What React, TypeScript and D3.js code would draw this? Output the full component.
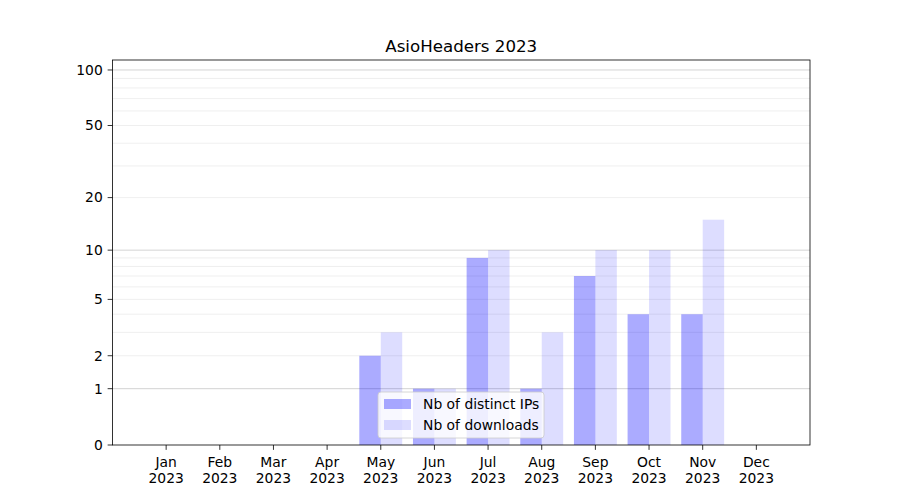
import React from "react";
import * as d3 from "d3";

const months = ["Jan", "Feb", "Mar", "Apr", "May", "Jun", "Jul", "Aug", "Sep", "Oct", "Nov", "Dec"];
const yearLabel = "2023";
const distinctIPs = [0, 0, 0, 0, 2, 1, 9, 1, 7, 4, 4, 0];
const downloads = [0, 0, 0, 0, 3, 1, 10, 3, 10, 10, 15, 0];
const yTickValues = [0, 1, 2, 5, 10, 20, 50, 100];
const majorGrid = [1, 10, 100];
const minorGrid = [2, 3, 4, 5, 6, 7, 8, 9, 20, 30, 40, 50, 60, 70, 80, 90];
const title = "AsioHeaders 2023";
const seriesNames = ["Nb of distinct IPs", "Nb of downloads"];

const W = 900, H = 500;
const L = 112.5, R = 810, T = 60, B = 445;
const FONT = "DejaVu Sans, sans-serif";
const FS = 13.89;
const TL = 4.86;
const C1 = "rgba(0,0,255,0.33)";
const C2 = "rgba(0,0,255,0.135)";

export default function App() {
  const x = d3.scaleLinear().domain([-1, 12]).range([L, R]);
  const y = d3.scaleSymlog().constant(1).domain([0, 113.2]).range([B, T]);
  const bw = x(0.4) - x(0);

  const legX = 378, legY = 392, legW = 166, legH = 46;

  return (
    <div style={{ position: "fixed", left: 0, top: 0 }}>
      <svg width={W} height={H} style={{ display: "block", background: "#fff" }} fontFamily={FONT}>
        <rect x={0} y={0} width={W} height={H} fill="#fff" />
        {/* grid */}
        {minorGrid.map((v) => (
          <line key={"mg" + v} x1={L} x2={R} y1={y(v)} y2={y(v)} stroke="#ebebeb" strokeWidth={0.8} />
        ))}
        {majorGrid.map((v) => (
          <line key={"Mg" + v} x1={L} x2={R} y1={y(v)} y2={y(v)} stroke="#c8c8c8" strokeWidth={0.8} />
        ))}
        {/* bars */}
        {months.map((m, i) => (
          <g key={m}>
            {distinctIPs[i] > 0 && (
              <rect x={x(i) - bw} y={y(distinctIPs[i])} width={bw} height={B - y(distinctIPs[i])} fill={C1} />
            )}
            {downloads[i] > 0 && (
              <rect x={x(i)} y={y(downloads[i])} width={bw} height={B - y(downloads[i])} fill={C2} />
            )}
          </g>
        ))}
        {/* frame */}
        <rect x={L} y={T} width={R - L} height={B - T} fill="none" stroke="#000" strokeWidth={0.8} />
        {/* y ticks */}
        {yTickValues.map((v) => (
          <g key={"yt" + v}>
            <line x1={L - TL} x2={L} y1={y(v)} y2={y(v)} stroke="#000" strokeWidth={0.8} />
            <text x={L - 2 * TL} y={y(v)} dy="0.35em" textAnchor="end" fontSize={FS} fill="#000">
              {v}
            </text>
          </g>
        ))}
        {/* x ticks */}
        {months.map((m, i) => (
          <g key={"xt" + m}>
            <line x1={x(i)} x2={x(i)} y1={B} y2={B + TL} stroke="#000" strokeWidth={0.8} />
            <text x={x(i)} y={466.5} textAnchor="middle" fontSize={FS} fill="#000">
              {m}
            </text>
            <text x={x(i)} y={482.5} textAnchor="middle" fontSize={FS} fill="#000">
              {yearLabel}
            </text>
          </g>
        ))}
        {/* title */}
        <text x={(L + R) / 2} y={52} textAnchor="middle" fontSize={16.67} fill="#000">
          {title}
        </text>
        {/* legend */}
        <rect x={legX} y={legY} width={legW} height={legH} rx={3} fill="rgba(255,255,255,0.8)" stroke="#cccccc" strokeWidth={0.8} />
        {[C1, C2].map((c, k) => (
          <g key={"lg" + k}>
            <rect x={384} y={399 + k * 21} width={27} height={10} fill={c} />
            <text x={423} y={404 + k * 21} dy="0.35em" fontSize={FS} fill="#000">
              {seriesNames[k]}
            </text>
          </g>
        ))}
      </svg>
    </div>
  );
}
